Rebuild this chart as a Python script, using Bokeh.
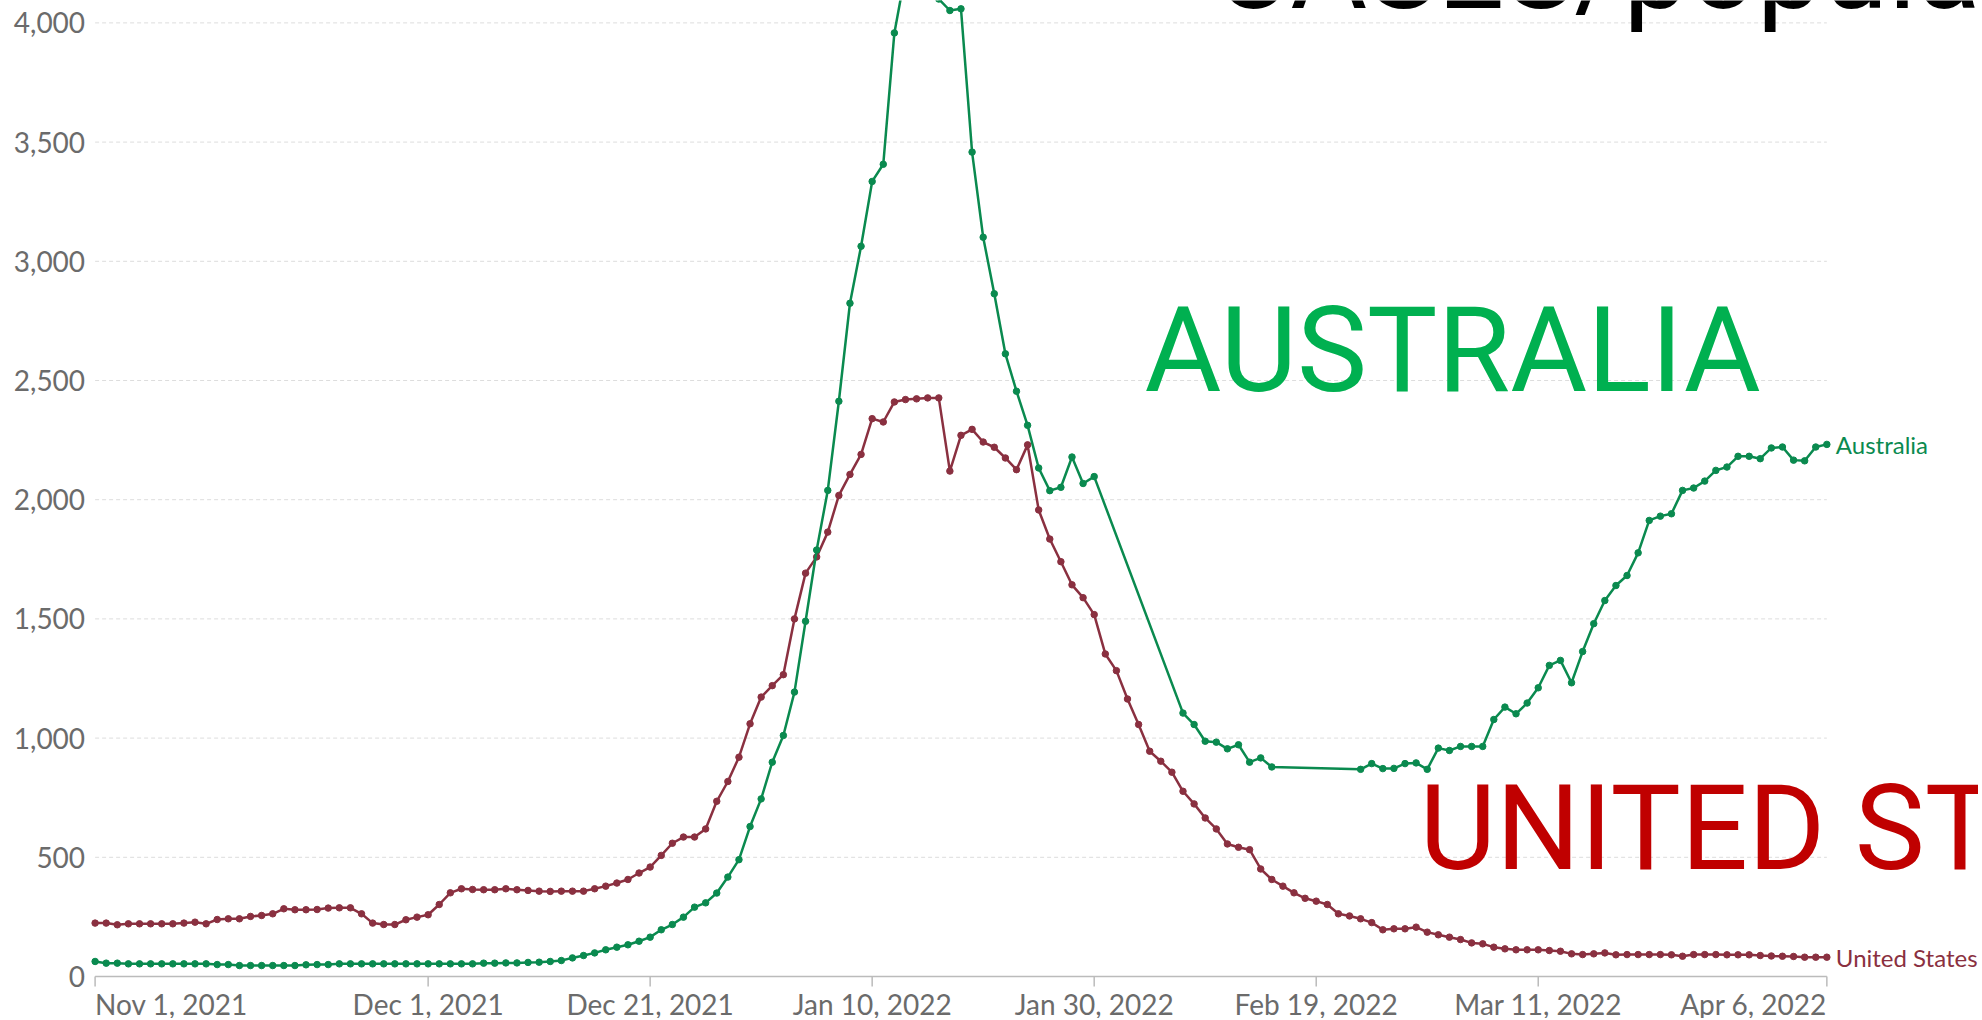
import numpy as np
import pandas as pd
from bokeh.plotting import figure
from bokeh.models import ColumnDataSource, Label, Range1d
from bokeh.core.properties import value
from bokeh.embed import file_html
from bokeh.resources import INLINE

# ---------------- data ----------------
start_date = "2021-11-01"

us_cases = [
    224, 224, 217, 221, 221, 221, 221, 221, 224, 228,
    221, 239, 242, 242, 252, 256, 263, 284, 280, 280,
    281, 287, 288, 288, 263, 224, 218, 218, 238, 249,
    259, 302, 351, 368, 365, 364, 364, 368, 364, 361,
    358, 357, 358, 358, 358, 368, 379, 392, 407, 434,
    459, 508, 559, 585, 585, 619, 735, 818, 920, 1060,
    1172, 1220, 1266, 1500, 1692, 1760, 1864, 2018, 2106, 2190,
    2340, 2326, 2410, 2420, 2423, 2427, 2427, 2120, 2270, 2295,
    2242, 2220, 2175, 2126, 2230, 1957, 1835, 1740, 1643, 1589,
    1518, 1353, 1283, 1164, 1057, 945, 903, 857, 777, 724,
    665, 619, 556, 542, 532, 451, 407, 379, 351, 328,
    316, 302, 263, 254, 242, 226, 196, 200, 200, 207,
    186, 175, 165, 155, 141, 137, 123, 116, 112, 112,
    112, 109, 106, 95, 92, 95, 99, 91, 92, 92,
    92, 92, 91, 85, 92, 92, 92, 91, 91, 91,
    88, 86, 85, 84, 81, 81, 81,
]

au_cases = [
    63, 56, 56, 53, 53, 53, 53, 53, 53, 53,
    53, 50, 50, 46, 46, 46, 46, 46, 46, 49,
    50, 50, 53, 53, 53, 53, 53, 53, 53, 53,
    53, 53, 53, 53, 53, 56, 56, 57, 57, 59,
    60, 63, 67, 78, 88, 99, 112, 123, 133, 148,
    165, 196, 218, 249, 291, 309, 350, 417, 490, 629,
    745, 899, 1011, 1193, 1490, 1789, 2039, 2413, 2824, 3063,
    3335, 3407, 3958, 4210, 4300, 4260, 4100, 4052, 4059, 3458,
    3101, 2864, 2612, 2455, 2312, 2133, 2038, 2052, 2179, 2068,
    2097, None, None, None, None, None, None, None, 1105, 1057,
    987, 983, 955, 972, 899, 917, 879, None, None, None,
    None, None, None, None, 869, 893, 872, 873, 893, 896,
    869, 958, 948, 965, 965, 965, 1078, 1130, 1102, 1147,
    1211, 1305, 1326, 1232, 1363, 1480, 1577, 1640, 1682, 1777,
    1913, 1931, 1941, 2039, 2049, 2078, 2123, 2137, 2182, 2182,
    2172, 2217, 2221, 2166, 2163, 2221, 2232,
]

x_tick_dates = ["2021-11-01", "2021-12-01", "2021-12-21", "2022-01-10",
                "2022-01-30", "2022-02-19", "2022-03-11", "2022-04-06"]
x_tick_labels = ["Nov 1, 2021", "Dec 1, 2021", "Dec 21, 2021", "Jan 10, 2022",
                 "Jan 30, 2022", "Feb 19, 2022", "Mar 11, 2022", "Apr 6, 2022"]
y_ticks = [0, 500, 1000, 1500, 2000, 2500, 3000, 3500, 4000]
y_tick_labels = ["0", "500", "1,000", "1,500", "2,000", "2,500", "3,000", "3,500", "4,000"]

series_names = ["United States", "Australia"]
series_colors = ["#8a3040", "#0a8a4f"]

# ---------------- layout constants (pixels) ----------------
W, H = 1978, 1018
X0_PX = 94.6          # pixel of first date
PX_PER_DAY = 11.101
Y0_PX = 976.0         # pixel of value 0
PX_PER_UNIT = 0.2384

FONT = "Lato"
TICK_COLOR = "#6b6b6b"
AXIS_COLOR = "#bbbbbb"
TICK_FONT_SIZE = "28px"

# ---------------- sources ----------------
dates = pd.date_range(start_date, periods=len(us_cases), freq="D")
us_src = ColumnDataSource(dict(date=dates, v=us_cases))
au_keep = [(d, v) for d, v in zip(dates, au_cases) if v is not None]
au_src = ColumnDataSource(dict(date=[d for d, _ in au_keep], v=[v for _, v in au_keep]))

day = pd.Timedelta(days=1)
x_range = Range1d(dates[0] - day * (X0_PX / PX_PER_DAY),
                  dates[0] + day * ((W - X0_PX) / PX_PER_DAY))
y_range = Range1d((Y0_PX - H) / PX_PER_UNIT, Y0_PX / PX_PER_UNIT)

p = figure(
    x_range=x_range, y_range=y_range,
    width=W, height=H,
    x_axis_location=None, y_axis_location=None,
    min_border=0, min_border_left=0, min_border_right=0,
    min_border_top=0, min_border_bottom=0,
    output_backend="svg", toolbar_location=None,
)
p.outline_line_color = None
p.background_fill_color = "white"
p.border_fill_color = "white"
p.xgrid.visible = False
p.ygrid.visible = False

first, lastd = dates[0], dates[-1]
tick_ts = [pd.Timestamp(d) for d in x_tick_dates]

# horizontal dashed gridlines (bounded to the data span)
grid_y = y_ticks[1:]
p.segment(x0=[first] * len(grid_y), x1=[lastd] * len(grid_y), y0=grid_y, y1=grid_y,
          line_color="#dddddd", line_width=1, line_dash="4 3")

# x axis line + ticks
p.segment(x0=[first], x1=[lastd], y0=[0], y1=[0], line_color=AXIS_COLOR, line_width=1.5)
p.ray(x=tick_ts, y=[0] * len(tick_ts), length=10, length_units="screen",
      angle=-np.pi / 2, line_color=AXIS_COLOR, line_width=1.5)

# y tick labels
p.text(x=[first] * len(y_ticks), y=y_ticks, text=y_tick_labels, x_offset=-10,
       text_align="right", text_baseline="middle", text_font=value(FONT),
       text_font_size=TICK_FONT_SIZE, text_color=TICK_COLOR)

# x tick labels (first left-aligned, last right-aligned)
last_i = len(tick_ts) - 1
for i, (t, lab) in enumerate(zip(tick_ts, x_tick_labels)):
    align = "left" if i == 0 else ("right" if i == last_i else "center")
    p.text(x=[t], y=[0], text=[lab], y_offset=27, text_align=align,
           text_baseline="middle", text_font=value(FONT),
           text_font_size=TICK_FONT_SIZE, text_color=TICK_COLOR)

# series
for src, name, col in zip([us_src, au_src], series_names, series_colors):
    p.line(x="date", y="v", source=src, line_color=col, line_width=2.5)
    p.scatter(x="date", y="v", source=src, size=6.5, fill_color=col, line_color=col)
    p.text(x=[src.data["date"][-1]], y=[src.data["v"][-1]], text=[name],
           x_offset=9, text_baseline="middle", text_font=value(FONT),
           text_font_size="24px", text_color=col)

# overlaid annotations (screen units: from left / bottom of canvas)
p.add_layout(Label(x=1144, y=H - 350, x_units="screen", y_units="screen", text="AUSTRALIA",
                   text_baseline="alphabetic", text_font="Roboto", text_font_size="118px",
                   text_color="#00b050"))
p.add_layout(Label(x=1419, y=H - 828, x_units="screen", y_units="screen", text="UNITED STATES",
                   text_baseline="alphabetic", text_font="Roboto", text_font_size="118px",
                   text_color="#c00000"))
p.add_layout(Label(x=1213, y=H + 33, x_units="screen", y_units="screen", text="CASES/population",
                   text_baseline="alphabetic", text_font="Roboto", text_font_size="118px",
                   text_color="#000000"))

open("out.html", "w").write(file_html(p, INLINE))
